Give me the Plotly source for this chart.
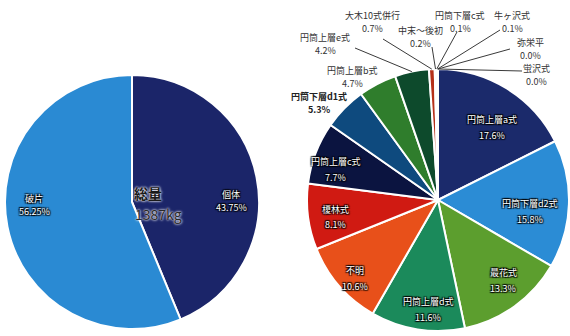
import math
import plotly.graph_objects as go

W, H = 570, 336
FONT = "Noto Sans CJK JP"

# Left chart: breakdown of the total weight
total_labels = ["個体", "破片"]
total_values = [43.75, 56.25]
total_colors = ["#1b2569", "#2a8ad3"]
total_weight = "1387kg"

# Right chart: breakdown by pottery type (%)
type_labels = ["円筒上層a式", "円筒下層d2式", "最花式", "円筒上層d式", "不明", "榎林式",
               "円筒上層c式", "円筒下層d1式", "円筒上層b式", "円筒上層e式", "大木10式併行",
               "中末～後初", "円筒下層c式", "牛ヶ沢式", "弥栄平", "蛍沢式"]
type_values = [17.6, 15.8, 13.3, 11.6, 10.6, 8.1, 7.7, 5.3, 4.7, 4.2, 0.7, 0.2, 0.1, 0.1, 0.0, 0.0]
type_colors = ["#1b2a6b", "#2b8cd5", "#5c9e2e", "#1b8a5b", "#e8501a", "#d01a12",
               "#0b1440", "#0e4a7e", "#2f7d2c", "#0d4a2c", "#b5301a",
               "#d45a20", "#8a8a8a", "#a0a0a0", "#b0b0b0", "#c0c0c0"]

# pie geometry in pixels (centre, radius)
LC = (132, 202, 127)
RC = (438, 200, 131)


def px(x):
    return x / W


def py(y):
    return 1 - y / H


def domain(c):
    cx, cy, r = c
    return dict(x=[px(cx - r), px(cx + r)], y=[py(cy + r), py(cy - r)])


def edge_point(c, values, i):
    """Point on the rim at the middle of slice i (clockwise from 12 o'clock)."""
    cx, cy, r = c
    tot = sum(values)
    start = sum(values[:i])
    ang = 2 * math.pi * (start + values[i] / 2) / tot
    return cx + r * math.sin(ang), cy - r * math.cos(ang)


fig = go.Figure()
fig.add_trace(go.Pie(
    labels=total_labels, values=total_values, sort=False, direction="clockwise",
    rotation=0, marker=dict(colors=total_colors, line=dict(color="white", width=2)),
    textinfo="none", hoverinfo="label+percent", domain=domain(LC), showlegend=False,
))
fig.add_trace(go.Pie(
    labels=type_labels, values=type_values, sort=False, direction="clockwise",
    rotation=0, marker=dict(colors=type_colors, line=dict(color="white", width=2)),
    textinfo="none", hoverinfo="label+percent", domain=domain(RC), showlegend=False,
))

annotations = []
shapes = []

dark_halo = "1px 1px 1px #000, -1px -1px 1px #000, 1px -1px 1px #000, -1px 1px 1px #000"
soft_light_halo = "0 0 3px #ffffff, 0 0 2px #ffffff"


def two_line(x, y, name, value, size, color, shadow=None, gap=14, bold=False, digits=1):
    pct = f"{value:.{digits}f}%"
    for txt, dy in ((name, -gap / 2), (pct, gap / 2)):
        f = dict(family=FONT, size=size, color=color)
        if shadow:
            f["shadow"] = shadow
        if bold:
            f["weight"] = "bold"
        annotations.append(dict(x=px(x), y=py(y + dy), xref="paper", yref="paper",
                                text=txt, showarrow=False, font=f,
                                xanchor="center", yanchor="middle"))


# left chart labels
left_pos = [(231, 201), (34, 205)]
for (x, y), name, v in zip(left_pos, total_labels, total_values):
    two_line(x, y, name, v, 9, "#ffffff", dark_halo, gap=13, digits=2)

annotations.append(dict(x=px(132), y=py(193), xref="paper", yref="paper", text="<b>総量</b>",
                        showarrow=False, font=dict(family=FONT, size=14, color="#1a1a1a",
                                                   shadow=soft_light_halo)))
annotations.append(dict(x=px(133), y=py(214), xref="paper", yref="paper", text=total_weight,
                        showarrow=False, font=dict(family=FONT, size=14, color="#2a2a2a",
                                                   shadow=soft_light_halo)))

# right chart: labels inside the larger slices
inside_pos = [(492, 127), (530, 211), (503, 280), (428, 309), (355, 278), (335, 217), (336, 169)]
for i, (x, y) in enumerate(inside_pos):
    two_line(x, y, type_labels[i], type_values[i], 9, "#ffffff", dark_halo, gap=16)

# right chart: labels outside, some with leader lines
n_in = len(inside_pos)
outside_pos = [(319, 103), (352, 77), (325, 44), (372, 22), (420, 37),
               (460, 22), (512, 22), (530, 49), (536, 75)]
line_ends = [None, None, (355, 48), (383, 39), (432, 47), (457, 32), (500, 30), (510, 49), (522, 71)]
for k, ((x, y), end) in enumerate(zip(outside_pos, line_ends)):
    i = n_in + k
    bold = type_labels[i] == "円筒下層d1式"
    two_line(x, y, type_labels[i], type_values[i], 9, "#222222" if bold else "#333333",
             None, gap=12.5, bold=bold)
    if end is not None:
        ex, ey = edge_point(RC, type_values, i)
        shapes.append(dict(type="line", xref="paper", yref="paper",
                           x0=px(ex), y0=py(ey), x1=px(end[0]), y1=py(end[1]),
                           line=dict(color="#3a3a3a", width=1)))

fig.update_layout(
    width=W, height=H, margin=dict(l=0, r=0, t=0, b=0),
    paper_bgcolor="white", plot_bgcolor="white",
    annotations=annotations, shapes=shapes,
    font=dict(family=FONT),
)

fig.write_html("out.html")
